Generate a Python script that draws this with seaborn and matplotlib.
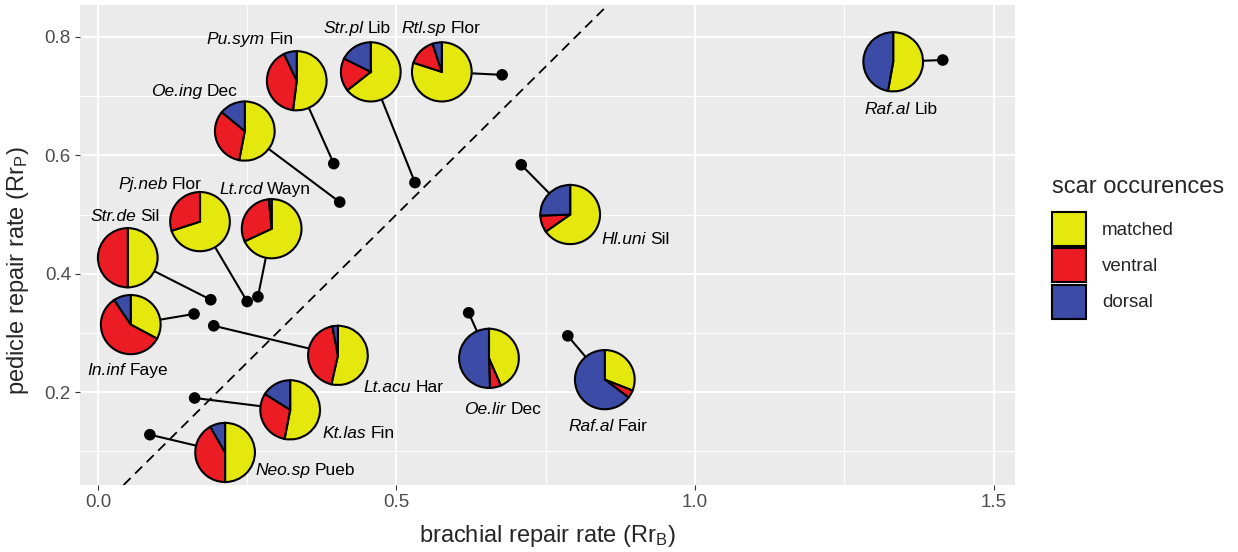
import numpy as np
import pandas as pd
import seaborn as sns
import matplotlib
matplotlib.use("Agg")
import matplotlib.pyplot as plt
from matplotlib.patches import Patch
from matplotlib.ticker import FixedLocator
from matplotlib.transforms import ScaledTranslation

# ---------------- data ----------------
species = ["Raf.al", "Rtl.sp", "Str.pl", "Pu.sym", "Oe.ing", "Pj.neb", "Lt.rcd",
           "Str.de", "In.inf", "Lt.acu", "Kt.las", "Neo.sp", "Oe.lir", "Raf.al", "Hl.uni"]
sites = ["Lib", "Flor", "Lib", "Fin", "Dec", "Flor", "Wayn",
         "Sil", "Faye", "Har", "Fin", "Pueb", "Dec", "Fair", "Sil"]
rr_b = [1.415, 0.677, 0.531, 0.395, 0.405, 0.250, 0.268,
        0.189, 0.161, 0.194, 0.162, 0.087, 0.621, 0.787, 0.709]
rr_p = [0.761, 0.736, 0.554, 0.586, 0.521, 0.353, 0.361,
        0.356, 0.332, 0.312, 0.190, 0.128, 0.334, 0.295, 0.584]
pie_x = [1.332, 0.576, 0.457, 0.333, 0.246, 0.171, 0.291,
         0.050, 0.055, 0.402, 0.322, 0.213, 0.655, 0.849, 0.791]
pie_y = [0.758, 0.741, 0.741, 0.726, 0.641, 0.488, 0.476,
         0.427, 0.314, 0.262, 0.170, 0.098, 0.257, 0.221, 0.500]
matched = [0.528, 0.80, 0.64, 0.52, 0.53, 0.70, 0.68,
           0.50, 0.33, 0.535, 0.53, 0.50, 0.435, 0.31, 0.652]
ventral = [0.0, 0.15, 0.18, 0.41, 0.33, 0.30, 0.305,
           0.50, 0.58, 0.435, 0.31, 0.417, 0.06, 0.043, 0.092]
dorsal = [0.472, 0.05, 0.175, 0.07, 0.14, 0.0, 0.015,
          0.0, 0.094, 0.03, 0.16, 0.083, 0.505, 0.647, 0.256]
label_x = [1.345, 0.575, 0.434, 0.255, 0.162, 0.104, 0.280,
           0.045, 0.050, 0.512, 0.436, 0.348, 0.678, 0.854, 0.901]
label_y = [0.680, 0.818, 0.818, 0.798, 0.711, 0.554, 0.545,
           0.500, 0.240, 0.211, 0.133, 0.071, 0.174, 0.144, 0.460]
categories = ["matched", "ventral", "dorsal"]
x_ticks = [0.0, 0.5, 1.0, 1.5]
y_ticks = [0.2, 0.4, 0.6, 0.8]

df = pd.DataFrame({"species": species, "site": sites, "rr_b": rr_b, "rr_p": rr_p,
                   "pie_x": pie_x, "pie_y": pie_y, "matched": matched,
                   "ventral": ventral, "dorsal": dorsal})

# ---------------- style ----------------
colors = {"matched": "#E5E80C", "ventral": "#EC1C24", "dorsal": "#3B4BA6"}
sns.set_theme(style="darkgrid", rc={
    "axes.facecolor": "#EBEBEB",
    "grid.color": "white",
})
plt.rcParams["font.family"] = ["Liberation Sans", "DejaVu Sans"]
plt.rcParams["mathtext.fontset"] = "custom"
plt.rcParams["mathtext.rm"] = "Liberation Sans"
plt.rcParams["mathtext.it"] = "Liberation Sans:italic"

DPI = 100
fig = plt.figure(figsize=(12.38, 5.52), dpi=DPI)
fig.patch.set_facecolor("white")
ax = fig.add_axes([80 / 1238, 1 - 485 / 552, 935 / 1238, 480 / 552])

xlim = (-0.03, 1.536)
ylim = (0.043, 0.854)

# identity line
ax.axline((0, 0), slope=1, color="black", lw=1.3, ls=(0, (5.5, 3.5)), zorder=1.5)

# connecting segments
for _, r in df.iterrows():
    ax.plot([r.rr_b, r.pie_x], [r.rr_p, r.pie_y], color="black", lw=1.5, zorder=2,
            solid_capstyle="butt")

# points
sns.scatterplot(data=df, x="rr_b", y="rr_p", color="black", s=70, edgecolor="none",
                ax=ax, zorder=3, legend=False)

# pies
for _, r in df.iterrows():
    vals = [r[c] for c in categories]
    cols = [colors[c] for c in categories]
    keep = [(v, c) for v, c in zip(vals, cols) if v > 0]
    ax.pie([k[0] for k in keep], colors=[k[1] for k in keep], center=(r.pie_x, r.pie_y),
           radius=0.05, startangle=90, counterclock=False, frame=True,
           wedgeprops=dict(edgecolor="black", linewidth=1.5, zorder=4))

ax.set_aspect("auto")
ax.set_xlim(*xlim)
ax.set_ylim(*ylim)

# labels: italic species + upright site, centred as one string
LFS = 12.5
fig.canvas.draw()
rend = fig.canvas.get_renderer()
space_px = 0.25 * LFS * DPI / 72
base_dy = -0.36 * LFS / 72  # inches: move baseline so caps centre on label point
for sp, st, lx, ly in zip(species, sites, label_x, label_y):
    t1 = ax.text(lx, ly, sp, style="italic", fontsize=LFS, ha="left", va="baseline",
                 color="black", zorder=5)
    t2 = ax.text(lx, ly, st, fontsize=LFS, ha="left", va="baseline",
                 color="black", zorder=5)
    w1 = t1.get_window_extent(rend).width
    w2 = t2.get_window_extent(rend).width
    total = w1 + space_px + w2
    t1.set_transform(ax.transData + ScaledTranslation(-total / 2 / DPI, base_dy,
                                                      fig.dpi_scale_trans))
    t2.set_transform(ax.transData + ScaledTranslation((-total / 2 + w1 + space_px) / DPI,
                                                      base_dy, fig.dpi_scale_trans))

ax.xaxis.set_major_locator(FixedLocator(x_ticks))
ax.yaxis.set_major_locator(FixedLocator(y_ticks))
ax.xaxis.set_minor_locator(FixedLocator([0.25, 0.75, 1.25]))
ax.yaxis.set_minor_locator(FixedLocator([0.1, 0.3, 0.5, 0.7]))
ax.set_xticklabels([f"{t:.1f}" for t in x_ticks])
ax.set_yticklabels([f"{t:.1f}" for t in y_ticks])
ax.grid(which="major", color="white", lw=1.3)
ax.grid(which="minor", color="white", lw=0.65)
ax.tick_params(which="major", length=3.5, width=0.8, color="#333333",
               labelsize=13.5, labelcolor="#4D4D4D", pad=3, bottom=True, left=True)
ax.tick_params(which="minor", length=0)
for s in ax.spines.values():
    s.set_visible(False)

ax.set_xlabel(r"brachial repair rate (Rr$_\mathregular{B}$)", fontsize=17, labelpad=8.5)
ax.set_ylabel(r"pedicle repair rate (Rr$_\mathregular{P}$)", fontsize=17)
ax.yaxis.set_label_coords((31 - 80) / 935, (485 - 271) / 480)

handles = [Patch(facecolor=colors[c], edgecolor="black", linewidth=1.5, label=c)
           for c in categories]
leg = fig.legend(handles=handles, title="scar occurences", loc="upper left",
                 bbox_to_anchor=(1052 / 1238, 1 - 176 / 552), frameon=False,
                 fontsize=13.5, title_fontsize=17, handlelength=1.81, handleheight=2.41,
                 labelspacing=0.13, handletextpad=0.85, borderaxespad=0, borderpad=0)
leg._legend_box.align = "left"
leg._legend_box.sep = 10

fig.savefig("out.png", dpi=DPI)
